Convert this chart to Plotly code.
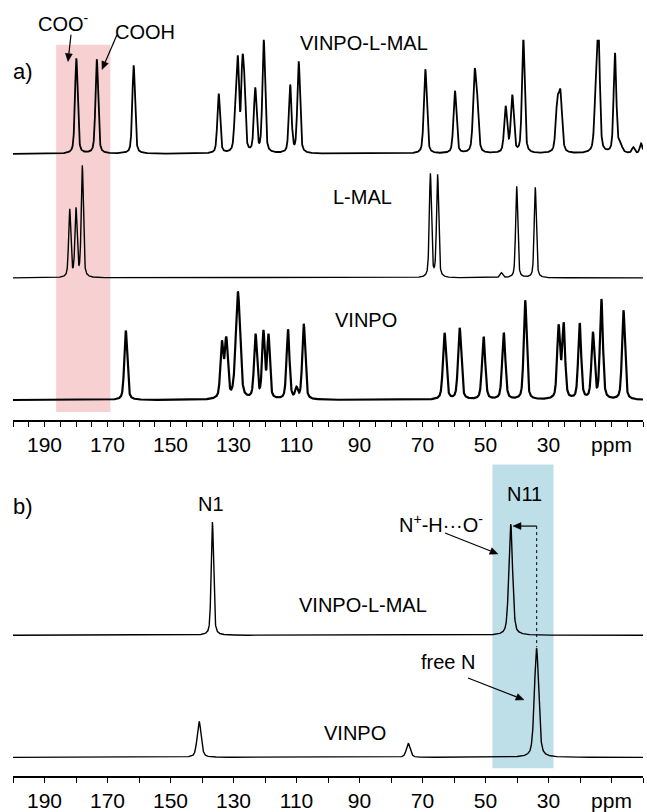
import numpy as np
import plotly.graph_objects as go

# ---------------- data ----------------
# Panel a) 13C CP/MAS spectra: peak positions (ppm), heights (a.u.), widths (ppm)
vlm_c_ppm = [179.9, 173.4, 161.7, 134.7, 129.3, 128.6, 127.2, 126.6, 123.1, 120.4, 112.0, 109.3,
             69.1, 59.7, 53.5, 52.7, 43.6, 41.5, 38.0, 27.2, 26.2, 14.8, 14.1, 8.9, 7.3, 3.1, 0.6]
vlm_c_int = [96, 95, 89, 60, 45, 80, 75, 55, 64, 114, 68, 92,
             85, 63, 72, 45, 46, 57, 116, 46, 55, 70, 100, 100, 8, 6, 10]
vlm_c_wid = [1.0, 1.0, 1.0, 1.0, 1.0, 0.9, 0.9, 0.9, 1.0, 1.0, 1.0, 1.0,
             1.1, 1.1, 1.1, 1.1, 1.1, 1.1, 1.0, 1.2, 1.2, 1.2, 1.0, 1.0, 1.5, 1.0, 1.0]

mal_c_ppm = [182.0, 180.0, 178.0, 67.5, 65.2, 45.0, 40.1, 34.2]
mal_c_int = [68, 68, 112, 104, 103, 5, 92, 91]
mal_c_wid = [0.8, 0.8, 0.8, 0.8, 0.8, 1.0, 0.8, 0.8]

vin_c_ppm = [164.2, 133.7, 132.3, 128.6, 123.0, 120.5, 118.9, 112.7, 110.0, 107.7,
             63.0, 58.2, 50.6, 44.2, 37.4, 26.8, 25.2, 20.1, 15.9, 13.2, 6.2]
vin_c_int = [70, 55, 58, 108, 64, 66, 63, 70, 10, 76,
             67, 72, 63, 67, 100, 72, 74, 76, 66, 100, 90]
vin_c_wid = [1.1, 1.1, 1.1, 1.6, 1.1, 1.0, 1.0, 1.1, 1.0, 1.1,
             1.2, 1.2, 1.2, 1.2, 1.1, 1.1, 1.1, 1.1, 1.1, 1.1, 1.1]

# Panel b) 15N CP/MAS spectra
vlm_n_ppm = [136.7, 42.0]
vlm_n_int = [114, 112]
vlm_n_wid = [0.9, 1.4]

vin_n_ppm = [140.9, 74.5, 33.8]
vin_n_int = [36, 14, 110]
vin_n_wid = [1.5, 1.5, 1.6]

tick_major = [190, 170, 150, 130, 110, 90, 70, 50, 30, 10]
tick_text = ["190", "170", "150", "130", "110", "90", "70", "50", "30", "ppm"]

# ---------------- layout helpers ----------------
W, H = 647, 812
ML, MR = 13, 4
PW = W - ML - MR


def paper(xpx, ypx):
    return (xpx - ML) / PW, (H - ypx) / H


grid = np.linspace(200, 0, 4001)


def spectrum(centers, heights, widths):
    y = np.zeros_like(grid)
    for c, h, w in zip(centers, heights, widths):
        d = (grid - c) / w
        y += h * (0.45 / (1 + 4 * d ** 2) + 0.55 * np.exp(-4 * np.log(2) * d ** 2))
    return y


FONT = "Liberation Sans, Arial, sans-serif"
fig = go.Figure()

# offsets (vertical stacking positions, in pixel-like axis units)
offs_a = {"vlm": 268, "mal": 143, "vin": 20}
offs_b = {"vlm": 142, "vin": 19}

fig.add_trace(go.Scatter(x=grid, y=spectrum(vlm_c_ppm, vlm_c_int, vlm_c_wid) + offs_a["vlm"],
                         mode="lines", line=dict(color="black", width=1.8), xaxis="x", yaxis="y"))
fig.add_trace(go.Scatter(x=grid, y=spectrum(mal_c_ppm, mal_c_int, mal_c_wid) + offs_a["mal"],
                         mode="lines", line=dict(color="black", width=1.4), xaxis="x", yaxis="y"))
fig.add_trace(go.Scatter(x=grid, y=spectrum(vin_c_ppm, vin_c_int, vin_c_wid) + offs_a["vin"],
                         mode="lines", line=dict(color="black", width=2.2), xaxis="x", yaxis="y"))
fig.add_trace(go.Scatter(x=grid, y=spectrum(vlm_n_ppm, vlm_n_int, vlm_n_wid) + offs_b["vlm"],
                         mode="lines", line=dict(color="black", width=1.4), xaxis="x2", yaxis="y2"))
fig.add_trace(go.Scatter(x=grid, y=spectrum(vin_n_ppm, vin_n_int, vin_n_wid) + offs_b["vin"],
                         mode="lines", line=dict(color="black", width=1.4), xaxis="x2", yaxis="y2"))

shapes = [
    dict(type="rect", xref="x", yref="y", x0=186.3, x1=169.1, y0=8, y1=378,
         fillcolor="#f7d1d1", line=dict(width=0), layer="below"),
    dict(type="rect", xref="x2", yref="y2", x0=47.8, x1=28.4, y0=8, y1=314,
         fillcolor="#bfdfe8", line=dict(width=0), layer="below"),
]
# dotted vertical guide line in panel b
gx0, gy0 = paper(536.7, 530)
gx1, gy1 = paper(536.7, 652)
shapes.append(dict(type="line", xref="paper", yref="paper", x0=gx0, x1=gx1, y0=gy0, y1=gy1,
                   line=dict(color="black", width=1, dash="dot")))


def arrow(tx, ty, hx, hy, head=8.0, half=3.5):
    """Arrow from tail (tx,ty) to head (hx,hy), in page pixels, drawn as shapes."""
    dx, dy = hx - tx, hy - ty
    L = (dx ** 2 + dy ** 2) ** 0.5
    ux, uy = dx / L, dy / L
    bx, by = hx - ux * head, hy - uy * head
    px_, py_ = -uy, ux
    x0, y0 = paper(tx, ty)
    x1, y1 = paper(bx, by)
    shapes.append(dict(type="line", xref="paper", yref="paper", x0=x0, y0=y0, x1=x1, y1=y1,
                       line=dict(color="black", width=1.2)))
    pts = [(hx, hy), (bx + px_ * half, by + py_ * half), (bx - px_ * half, by - py_ * half)]
    pp = [paper(a, b) for a, b in pts]
    path = "M {} {} L {} {} L {} {} Z".format(pp[0][0], pp[0][1], pp[1][0], pp[1][1], pp[2][0], pp[2][1])
    shapes.append(dict(type="path", xref="paper", yref="paper", path=path,
                       fillcolor="black", line=dict(color="black", width=0.5)))


arrow(71, 35, 68, 62)
arrow(117, 35, 102, 70)
arrow(445, 537, 498, 558)
arrow(468, 683, 524, 705)
arrow(536.7, 530, 513, 530)

annotations = []


def text(xpx, ypx, s, size=20):
    x, y = paper(xpx, ypx)
    annotations.append(dict(x=x, y=y, xref="paper", yref="paper", text=s, showarrow=False,
                            xanchor="center", yanchor="middle",
                            font=dict(family=FONT, size=size, color="black")))


text(23, 72, "a)", 22)
text(63, 23, "COO<sup>-</sup>", 20)
text(145, 32, "COOH", 20)
text(364, 43, "VINPO-L-MAL")
text(362, 198, "L-MAL")
text(366, 322, "VINPO")
text(23, 510, "b)", 22)
text(211, 508, "N1")
text(363, 610, "VINPO-L-MAL")
text(355, 738, "VINPO")
text(524, 498, "N11")
text(441, 527, "N<sup>+</sup>-H···O<sup>-</sup>")
text(448, 667, "free N")


def xaxis_cfg(minor_step, anchor):
    return dict(range=[200, 0], anchor=anchor, domain=[0, 1],
                tickmode="array", tickvals=tick_major, ticktext=tick_text,
                ticks="outside", ticklen=5, tickwidth=1.2, tickcolor="black",
                minor=dict(tickmode="linear", tick0=0, dtick=minor_step, ticks="outside",
                           ticklen=5, tickwidth=1.2, tickcolor="black", showgrid=False),
                showline=True, linecolor="black", linewidth=1.5,
                showgrid=False, zeroline=False,
                tickfont=dict(family=FONT, size=21, color="black"))


fig.update_layout(
    width=W, height=H,
    margin=dict(l=ML, r=MR, t=0, b=0),
    paper_bgcolor="white", plot_bgcolor="white",
    showlegend=False,
    xaxis=xaxis_cfg(5, "y"),
    yaxis=dict(domain=[(H - 423) / H, (H - 40) / H], range=[0, 383], visible=False),
    xaxis2=xaxis_cfg(10, "y2"),
    yaxis2=dict(domain=[(H - 782) / H, (H - 465) / H], range=[0, 317], visible=False),
    shapes=shapes,
    annotations=annotations,
)

fig.write_html("out.html")
